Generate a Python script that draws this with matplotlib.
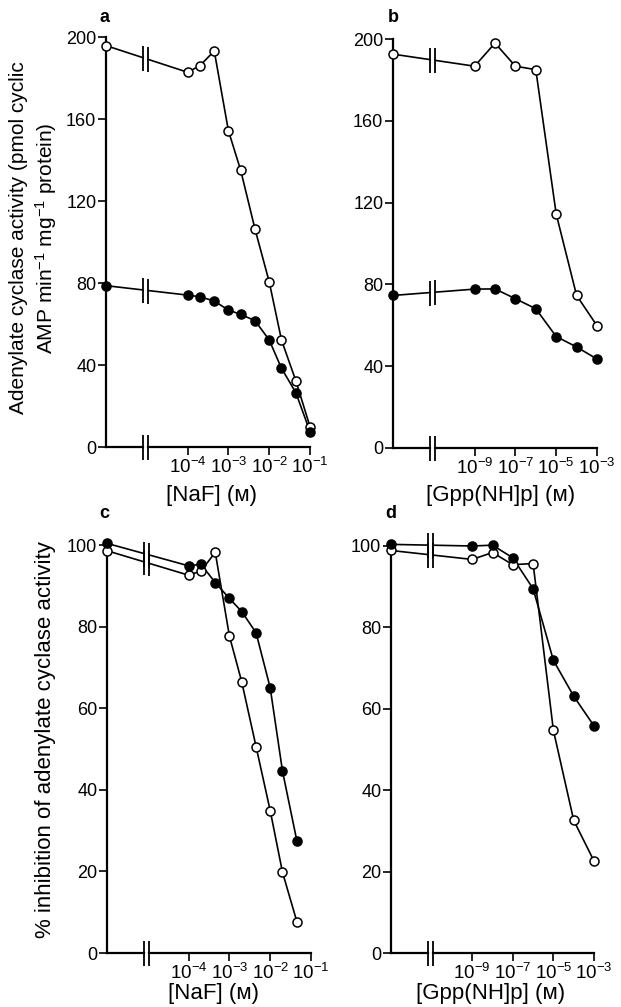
import matplotlib
matplotlib.use("Agg")
import matplotlib.pyplot as plt
import numpy as np
from matplotlib.ticker import NullLocator

plt.rcParams['font.family'] = ['Liberation Sans', 'DejaVu Sans']
plt.rcParams['mathtext.fontset'] = 'custom'
plt.rcParams['mathtext.rm'] = 'Liberation Sans'
plt.rcParams['mathtext.it'] = 'Liberation Sans:italic'
plt.rcParams['mathtext.bf'] = 'Liberation Sans:bold'

# concentrations (M)
naf_x = [1e-4, 2e-4, 4.5e-4, 1e-3, 2e-3, 4.5e-3, 1e-2, 2e-2, 4.5e-2, 1e-1]
gpp_x = [1e-9, 1e-8, 1e-7, 1e-6, 1e-5, 1e-4, 1e-3]

# a: adenylate cyclase activity vs NaF (first value = control, no drug)
a_open = [195.8, 182.8, 186.0, 193.2, 154.3, 135.0, 106.2, 80.6, 52.2, 32.3, 9.9]
a_filled = [78.7, 74.1, 73.3, 71.2, 66.8, 64.7, 61.6, 52.2, 38.4, 26.5, 7.5]

# b: activity vs Gpp(NH)p
b_open = [192.6, 186.7, 198.0, 186.7, 185.0, 114.4, 74.6, 59.8]
b_filled = [74.6, 77.7, 77.8, 73.0, 68.1, 54.5, 49.4, 43.5]

# c: % of activity vs NaF (no 0.1 M point)
c_open = [98.6, 92.6, 93.6, 98.2, 77.7, 66.5, 50.6, 34.9, 19.8, 7.7]
c_filled = [100.4, 94.9, 95.3, 90.8, 86.9, 83.7, 78.5, 65.0, 44.6, 27.5]

# d: % of activity vs Gpp(NH)p
d_open = [98.9, 96.7, 98.4, 95.4, 95.7, 54.7, 32.6, 22.6]
d_filled = [100.4, 100.0, 100.2, 97.1, 89.5, 71.9, 63.1, 55.8]

naf_ticks = [1e-4, 1e-3, 1e-2, 1e-1]
naf_labels = ['10$^{-4}$', '10$^{-3}$', '10$^{-2}$', '10$^{-1}$']
gpp_ticks = [1e-9, 1e-7, 1e-5, 1e-3]
gpp_labels = ['10$^{-9}$', '10$^{-7}$', '10$^{-5}$', '10$^{-3}$']

BRK = 0.195   # break position, fraction of axis width
GAP = 0.013   # half gap, fraction of axis width


def panel(ax, x, series, xmin, xmax, ymax, yticks, xticks, xlabels):
    lo, hi = np.log10(xmin), np.log10(xmax)
    b = lo + BRK * (hi - lo)
    g = GAP * (hi - lo)
    bl, br = 10 ** (b - g), 10 ** (b + g)
    n = len(series[0][0])
    xs = x[:n - 1]
    for ys, filled in series:
        c0, y0 = np.log10(xmin), np.log10(xs[0])
        yl = ys[0] + (np.log10(bl) - c0) / (y0 - c0) * (ys[1] - ys[0])
        yr = ys[0] + (np.log10(br) - c0) / (y0 - c0) * (ys[1] - ys[0])
        ax.plot([xmin, bl], [ys[0], yl], color='k', lw=1.2, clip_on=False)
        ax.plot([br] + list(xs), [yr] + list(ys[1:]), color='k', lw=1.2, clip_on=False)
        ax.plot([bl, br], [yl, yr], ls='none', marker='|', ms=18, mew=1.3,
                color='k', clip_on=False)
        ax.plot([xmin] + list(xs), ys, ls='none', marker='o', ms=6.5, mew=1.1,
                mec='k', mfc='k' if filled else 'white', clip_on=False, zorder=5)
    # broken x axis
    ax.spines['bottom'].set_visible(False)
    ax.plot([xmin, bl], [0, 0], color='k', lw=1.6, clip_on=False)
    ax.plot([br, xmax], [0, 0], color='k', lw=1.6, clip_on=False)
    ax.plot([bl, br], [0, 0], ls='none', marker='|', ms=18, mew=1.3,
            color='k', clip_on=False)
    ax.set_xscale('log')
    ax.set_xlim(xmin, xmax)
    ax.set_ylim(0, ymax)
    ax.set_yticks(yticks)
    ax.set_xticks(xticks)
    ax.set_xticklabels(xlabels)
    ax.xaxis.set_minor_locator(NullLocator())
    ax.spines['top'].set_visible(False)
    ax.spines['right'].set_visible(False)
    ax.spines['left'].set_linewidth(1.6)
    ax.tick_params(axis='both', direction='out', length=6, width=1.2,
                   labelsize=13, colors='k')
    ax.tick_params(axis='x', pad=1, labelsize=13.5)
    ax.tick_params(axis='y', pad=1)
    ax.set_facecolor('none')


W, H = 621, 1007
fig = plt.figure(figsize=(W / 100, H / 100), dpi=100)


def box(l, r, t, b):
    return [l / W, 1 - b / H, (r - l) / W, (b - t) / H]


ax_a = fig.add_axes(box(106, 310, 37, 447))
ax_b = fig.add_axes(box(393, 597, 39, 448))
ax_c = fig.add_axes(box(107, 311, 545, 953))
ax_d = fig.add_axes(box(391, 594, 546, 953))

panel(ax_a, naf_x, [(a_open, False), (a_filled, True)], 1e-6, 1e-1, 200,
      [0, 40, 80, 120, 160, 200], naf_ticks, naf_labels)
panel(ax_b, gpp_x, [(b_open, False), (b_filled, True)], 1e-13, 1e-3, 200,
      [0, 40, 80, 120, 160, 200], gpp_ticks, gpp_labels)
panel(ax_c, naf_x, [(c_open, False), (c_filled, True)], 1e-6, 1e-1, 100,
      [0, 20, 40, 60, 80, 100], naf_ticks, naf_labels)
panel(ax_d, gpp_x, [(d_open, False), (d_filled, True)], 1e-13, 1e-3, 100,
      [0, 20, 40, 60, 80, 100], gpp_ticks, gpp_labels)

# panel letters
for s, px, py in [('a', 105, 17), ('b', 393, 18), ('c', 104, 514), ('d', 391, 513)]:
    fig.text(px / W, 1 - py / H, s, fontsize=13, fontweight='bold',
             ha='center', va='center')

# axis titles
fig.text(34 / W, 1 - 238 / H,
         'Adenylate cyclase activity (pmol cyclic\nAMP min$^{-1}$ mg$^{-1}$ protein)',
         rotation=90, ha='center', va='center', multialignment='center',
         fontsize=15, linespacing=1.3)
fig.text(46 / W, 1 - 740 / H, '% inhibition of adenylate cyclase activity',
         rotation=90, ha='center', va='center', fontsize=16)
for s, px, py in [('[NaF] (м)', 212, 495), ('[Gpp(NH]p] (м)', 501, 495),
                  ('[NaF] (м)', 214, 993), ('[Gpp(NH]p] (м)', 491, 994)]:
    fig.text(px / W, 1 - py / H, s, ha='center', va='center', fontsize=16)

fig.savefig('out.png', dpi=100)
